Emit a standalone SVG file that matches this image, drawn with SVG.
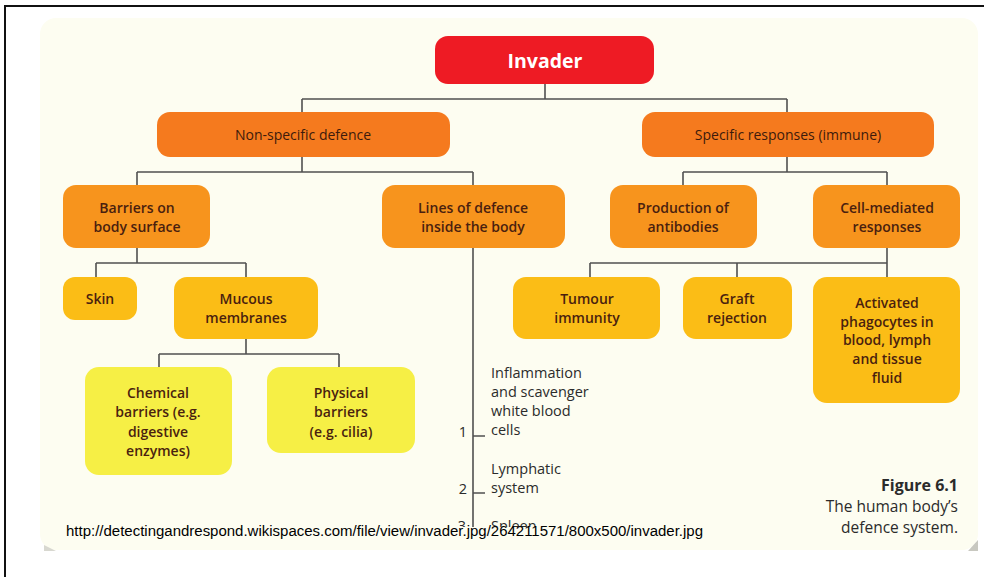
<svg xmlns="http://www.w3.org/2000/svg" width="984" height="577" viewBox="0 0 984 577">
  <style>
    .lbl { font-family: "Open Sans", "Noto Sans", "DejaVu Sans", sans-serif; font-size: 14px; fill: #4a1f0f; text-anchor: middle; font-weight: 600; }
    .lvl2 { font-weight: 500; fill: #3d1a0c; }
    .side { font-family: "Open Sans", "Noto Sans", "DejaVu Sans", sans-serif; font-size: 14.5px; fill: #2b2b2b; }
    .num { font-family: "Open Sans", "Noto Sans", sans-serif; font-size: 14.5px; fill: #2b2b2b; text-anchor: middle; }
    .cap { font-family: "Open Sans", "Noto Sans", sans-serif; font-size: 15.5px; fill: #2b2b2b; text-anchor: end; }
    .link { fill: none; stroke: #505050; stroke-width: 1.6; }
    .red { fill: #ee1b24; }
    .o2 { fill: #f57a1e; }
    .o3 { fill: #f7941d; }
    .o4 { fill: #fbbd16; }
    .y5 { fill: #f6ef45; }
  </style>
  <defs>
    <clipPath id="pageClip">
      <rect x="0" y="0" width="984" height="527"/>
    </clipPath>
  </defs>

  <!-- page background and frame -->
  <rect x="0" y="0" width="984" height="577" fill="#ffffff"/>
  <path d="M5,577 V6 H984" fill="none" stroke="#111" stroke-width="2"/>

  <!-- cream panel -->
  <rect x="40" y="18" width="938" height="532" rx="16" fill="#fdfdf1"/>
  <path d="M44,545 L56,551 L44,551 Z" fill="#d8d8d0"/>
  <path d="M978,540 L978,551 L968,551 Z" fill="#c8c8c0"/>

  <!-- connectors -->
  <g id="connectors" class="link">
    <path d="M545,84 V99 M302,99 H787 M302,99 V112 M787,99 V112"/>
    <path d="M302,157 V172 M137,172 H473 M137,172 V185 M473,172 V185"/>
    <path d="M787,157 V172 M683,172 H887 M683,172 V185 M887,172 V185"/>
    <path d="M137,248 V263 M96,263 H246 M96,263 V277 M246,263 V277"/>
    <path d="M246,339 V354 M159,354 H339 M159,354 V367 M339,354 V367"/>
    <path d="M887,248 V263 M590,263 H887 M590,263 V277 M737,263 V277 M887,263 V277"/>
    <g clip-path="url(#pageClip)">
      <path d="M473,248 V530 M473,436 H485 M473,493 H485"/>
    </g>
  </g>

  <!-- nodes -->
  <g id="invader">
    <rect class="red" x="435" y="36" width="219" height="48" rx="13"/>
    <text x="545" y="68" class="lbl" style="fill:#ffffff;font-weight:700;font-size:19.5px">Invader</text>
  </g>

  <g id="nonspecific">
    <rect class="o2" x="157" y="112" width="293" height="45" rx="13"/>
    <text x="303" y="140" class="lbl lvl2">Non-specific defence</text>
  </g>

  <g id="specific">
    <rect class="o2" x="642" y="112" width="292" height="45" rx="13"/>
    <text x="788" y="140" class="lbl lvl2">Specific responses (immune)</text>
  </g>

  <g id="barriers">
    <rect class="o3" x="63" y="185" width="147" height="63" rx="13"/>
    <text x="137" y="213" class="lbl">Barriers on</text>
    <text x="137" y="232" class="lbl">body surface</text>
  </g>

  <g id="lines-of-defence">
    <rect class="o3" x="382" y="185" width="183" height="63" rx="13"/>
    <text x="473" y="213" class="lbl">Lines of defence</text>
    <text x="473" y="232" class="lbl">inside the body</text>
  </g>

  <g id="antibodies">
    <rect class="o3" x="610" y="185" width="147" height="63" rx="13"/>
    <text x="683" y="213" class="lbl">Production of</text>
    <text x="683" y="232" class="lbl">antibodies</text>
  </g>

  <g id="cell-mediated">
    <rect class="o3" x="813" y="185" width="147" height="63" rx="13"/>
    <text x="887" y="213" class="lbl">Cell-mediated</text>
    <text x="887" y="232" class="lbl">responses</text>
  </g>

  <g id="skin">
    <rect class="o4" x="63" y="277" width="74" height="43" rx="12"/>
    <text x="100" y="304" class="lbl">Skin</text>
  </g>

  <g id="mucous">
    <rect class="o4" x="174" y="277" width="144" height="62" rx="13"/>
    <text x="246" y="304" class="lbl">Mucous</text>
    <text x="246" y="323" class="lbl">membranes</text>
  </g>

  <g id="chemical">
    <rect class="y5" x="85" y="367" width="147" height="108" rx="14"/>
    <text x="158" y="398" class="lbl">Chemical</text>
    <text x="158" y="417" class="lbl">barriers (e.g.</text>
    <text x="158" y="437" class="lbl">digestive</text>
    <text x="158" y="456" class="lbl">enzymes)</text>
  </g>

  <g id="physical">
    <rect class="y5" x="267" y="367" width="148" height="86" rx="14"/>
    <text x="341" y="398" class="lbl">Physical</text>
    <text x="341" y="417" class="lbl">barriers</text>
    <text x="341" y="437" class="lbl">(e.g. cilia)</text>
  </g>

  <g id="tumour">
    <rect class="o4" x="513" y="277" width="147" height="62" rx="13"/>
    <text x="587" y="304" class="lbl">Tumour</text>
    <text x="587" y="323" class="lbl">immunity</text>
  </g>

  <g id="graft">
    <rect class="o4" x="683" y="277" width="109" height="62" rx="13"/>
    <text x="737" y="304" class="lbl">Graft</text>
    <text x="737" y="323" class="lbl">rejection</text>
  </g>

  <g id="phagocytes">
    <rect class="o4" x="813" y="277" width="147" height="126" rx="14"/>
    <text x="887" y="308" class="lbl">Activated</text>
    <text x="887" y="327" class="lbl">phagocytes in</text>
    <text x="887" y="345" class="lbl">blood, lymph</text>
    <text x="887" y="364" class="lbl">and tissue</text>
    <text x="887" y="383" class="lbl">fluid</text>
  </g>

  <!-- numbered lines of defence -->
  <g id="defence-list" clip-path="url(#pageClip)">
    <text x="491" y="378" class="side">Inflammation</text>
    <text x="491" y="397" class="side">and scavenger</text>
    <text x="491" y="416" class="side">white blood</text>
    <text x="491" y="435" class="side">cells</text>
    <text x="463" y="437" class="num">1</text>
    <text x="491" y="474" class="side">Lymphatic</text>
    <text x="491" y="493" class="side">system</text>
    <text x="463" y="494" class="num">2</text>
    <text x="462" y="531" class="num">3</text>
    <text x="491" y="531" class="side">Spleen</text>
  </g>

  <!-- caption -->
  <g id="caption">
    <text x="958" y="491" class="cap" style="font-weight:700;font-size:16px">Figure 6.1</text>
    <text x="958" y="512" class="cap">The human body’s</text>
    <text x="958" y="533" class="cap">defence system.</text>
  </g>

  <!-- source link -->
  <text x="66" y="536" font-family="Liberation Sans, Arial, sans-serif" font-size="15.5" fill="#000" textLength="637" lengthAdjust="spacingAndGlyphs">http://detectingandrespond.wikispaces.com/file/view/invader.jpg/264211571/800x500/invader.jpg</text>
</svg>
